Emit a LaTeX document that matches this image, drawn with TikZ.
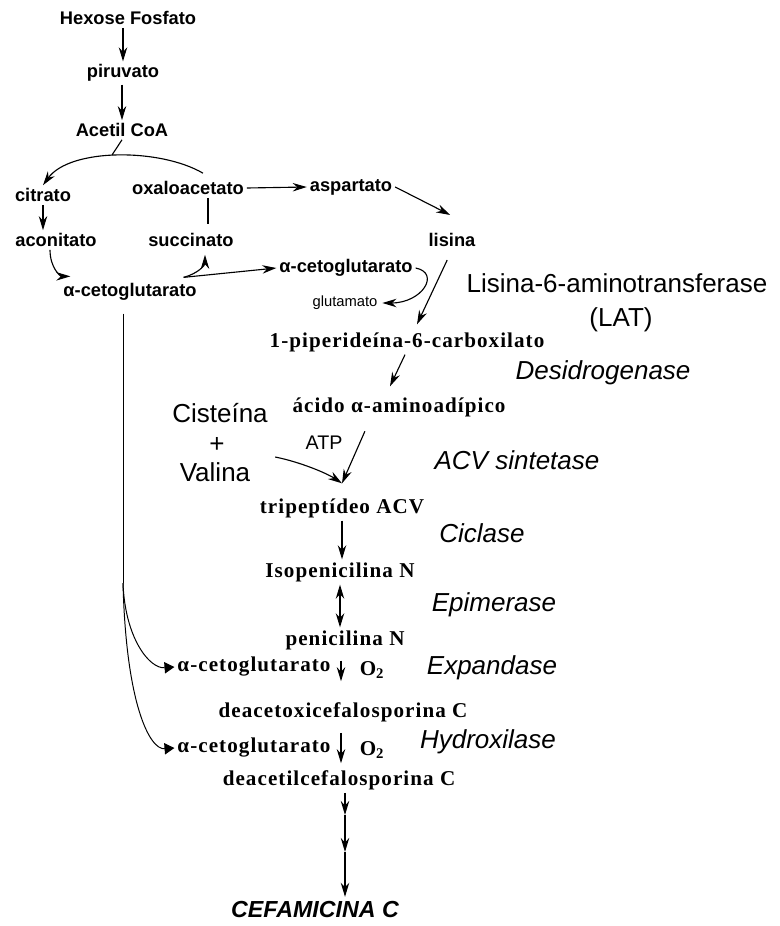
\documentclass[tikz,border=0pt]{standalone}
\usepackage{fontspec}
\setmainfont{Liberation Sans}
\newfontfamily\cpdserif[LetterSpace=5]{Liberation Serif}
\usetikzlibrary{arrows.meta,calc}

\tikzset{
  cpd/.style={font=\fontsize{13}{15}\selectfont\bfseries,inner sep=2pt},
  cpdlow/.style={font=\cpdserif\fontsize{15}{17}\selectfont\bfseries,inner sep=2pt},
  enz/.style={font=\fontsize{18.5}{22}\selectfont\itshape},
  big/.style={font=\fontsize{18.5}{22}\selectfont},
  rxn/.style={-{Stealth[length=10pt,width=6pt]},line width=0.8pt},
  cofac/.style={-{Triangle[length=7pt,width=8pt]},line width=0.7pt},
}

\begin{document}
\begin{tikzpicture}[x=0.025cm,y=-0.025cm]
\useasboundingbox[fill=white] (0,0) rectangle (779,926);
% glicolise e ciclo de Krebs
\node[cpd] (hex) at (128,18) {Hexose Fosfato};
\node[cpd] (piru) at (123,73) {piruvato};
\node[cpd] (acoa) at (122,130) {Acetil CoA};
\node[cpd] (citr) at (43,195) {citrato};
\node[cpd] (oxa) at (188,188) {oxaloacetato};
\node[cpd] (asp) at (351,187) {aspartato};
\node[cpd] (lis) at (452,240) {lisina};
\node[cpd] (acon) at (56,240) {aconitato};
\node[cpd] (succ) at (191,240) {succinato};
\node[cpd] (alfa) at (130,292) {α-cetoglutarato};
\node[cpd] (alfa2) at (346,268) {α-cetoglutarato};
\node[font=\fontsize{10.5}{12}\selectfont] (glu) at (345,303) {glutamato};
% via da cefamicina
\node[cpdlow] (pip) at (407,342) {1-piperideína-6-carboxilato};
\node[cpdlow] (aci) at (399,407) {ácido α-aminoadípico};
\node[big] (cis) at (220,413) {Cisteína};
\node[big] (plus) at (217,445) {+};
\node[big] (val) at (215,472) {Valina};
\node[font=\fontsize{14}{16}\selectfont] (atp) at (324,443) {ATP};
\node[cpdlow] (tri) at (342,508) {tripeptídeo ACV};
\node[cpdlow] (iso) at (340,572) {Isopenicilina N};
\node[cpdlow] (pen) at (345,640) {penicilina N};
\node[cpdlow] (akg1) at (254,667) {α-cetoglutarato};
\node[cpdlow] (o2a) at (372,670) {O\textsubscript{2}};
\node[cpdlow] (deacx) at (343,712) {deacetoxicefalosporina C};
\node[cpdlow] (akg2) at (254,748) {α-cetoglutarato};
\node[cpdlow] (o2b) at (372,750) {O\textsubscript{2}};
\node[cpdlow] (deacl) at (339,780) {deacetilcefalosporina C};
\node[font=\fontsize{16.5}{19}\selectfont\bfseries\itshape] (cef) at (315,910) {CEFAMICINA C};
% enzimas
\node[big] (lat) at (617,283) {Lisina-6-aminotransferase};
\node[big] (latab) at (621,320) {(LAT)};
\node[enz] (desid) at (603,373) {Desidrogenase};
\node[enz] (acvs) at (517,460) {ACV sintetase};
\node[enz] (cicl) at (482,533) {Ciclase};
\node[enz] (epim) at (494,605) {Epimerase};
\node[enz] (expd) at (492,668) {Expandase};
\node[enz] (hydr) at (488,742) {Hydroxilase};

\coordinate (oxtop) at ($(oxa.north)+(15,-5)$);
\coordinate (jn) at (112,155);
\coordinate (br) at ($(alfa.north east)+(-16,-3)$);
\coordinate (acvin) at ($(tri.north)+(0,-12)$);
\coordinate (split) at (123,583);
\coordinate (c1) at (345,815);
\coordinate (c2) at (345,852);

\draw[rxn] (piru.north |- hex.south) -- (piru.north);
\draw[rxn] (acoa.north |- piru.south) -- (acoa.north);
\draw[line width=0.8pt] (acoa.south) -- (jn);
\draw[rxn] (oxtop) .. controls (160,148) and (70,148) .. (citr.north);
\draw[rxn] (citr.south) -- (citr.south |- acon.north);
\draw[line width=0.8pt] ($(oxa.south)+(20,0)$) -- ($(succ.north)+(17,-6)$);
\draw[rxn] (oxa.east) -- (asp.west);
\draw[rxn] (asp.east) -- ++(55,28);
\draw[rxn] ($(acon.south)+(-6,0)$) .. controls +(0,18) and +(-10,0) .. ($(alfa.north west)+(10,-4)$);
\draw[rxn] (br) .. controls +(15,-4) and +(0,10) .. ($(succ.south)+(14,5)$);
\draw[rxn] (br) -- (alfa2.west);
\draw[rxn] (alfa2.east) .. controls +(25,5) and +(40,0) .. (glu.east);
\draw[rxn,shorten <=8pt] (lis.south) -- ($(pip.north)+(10,-5)$);
\draw[rxn] ($(pip.south)+(-2,0)$) -- ($(aci.north)+(-9,-8)$);
\draw[rxn,shorten <=9pt] ($(aci.south)+(-29,0)$) -- (acvin);
\draw[rxn] ($(val.east)+(20,-15)$) .. controls +(25,5) and +(-15,-10) .. (acvin);
\draw[rxn] (tri.south) -- (tri.south |- iso.north);
\draw[{Stealth[length=10pt,width=6pt]}-{Stealth[length=10pt,width=6pt]},line width=0.8pt] (iso.south) -- (iso.south |- pen.north);
\draw[rxn] ($(pen.south)+(-4,8)$) -- ($(deacx.north)+(-2,-18)$);
\draw[rxn] ($(deacx.south)+(-2,8)$) -- ($(deacl.north)+(2,-4)$);
\draw[rxn] (deacl.south -| c1) -- (c1);
\draw[rxn] (c1) -- (c2);
\draw[rxn] (c2) -- (cef.north -| c2);
\draw[line width=0.7pt] ($(alfa.south)+(-7,10)$) -- (split);
\draw[cofac] (split) .. controls +(2,55) and +(-25,2) .. (akg1.west);
\draw[cofac] (split) .. controls +(3,120) and +(-25,2) .. (akg2.west);
\end{tikzpicture}
\end{document}
